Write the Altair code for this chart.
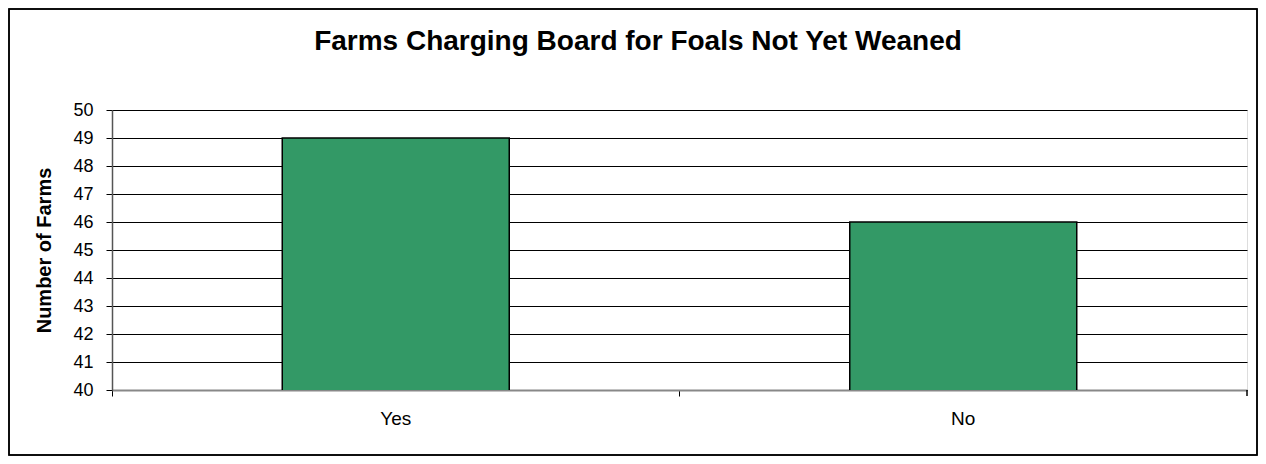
import altair as alt
import pandas as pd

categories = ["Yes", "No"]
farms = [49, 46]
y_ticks = [40, 41, 42, 43, 44, 45, 46, 47, 48, 49, 50]
title_text = ["Farms Charging Board for Foals Not Yet Weaned"]

df = pd.DataFrame({"answer": categories, "farms": farms})
df_title = pd.DataFrame({"t": title_text})

W, H = 1135, 280
PAD_L, PAD_T, PAD_R, PAD_B = 104, 102, 11, 66
FONT = "Liberation Sans"

bars = alt.Chart(df).mark_bar(
    color="#339966", stroke="#000000", strokeWidth=1.5, clip=True
).encode(
    x=alt.X(
        "answer:N",
        sort=categories,
        scale=alt.Scale(paddingInner=0.6, paddingOuter=0.3),
        axis=alt.Axis(
            title=None,
            bandPosition=-0.75,
            labelAngle=0,
            labelFont=FONT,
            labelFontSize=19,
            labelColor="#000000",
            labelPadding=13,
            tickColor="#000000",
            tickSize=6,
            domainColor="#888888",
            domainWidth=2,
            grid=False,
        ),
    ),
    y=alt.Y(
        "farms:Q",
        scale=alt.Scale(domain=[40, 50], nice=False, zero=False),
        axis=alt.Axis(
            title="Number of Farms",
            values=y_ticks,
            format="d",
            titleFont=FONT,
            titleFontSize=20,
            titleFontWeight="bold",
            titleColor="#000000",
            titleAngle=-90,
            titleX=-68,
            titleY=H / 2,
            titleAlign="center",
            titleBaseline="middle",
            labelFont=FONT,
            labelFontSize=18,
            labelColor="#000000",
            labelPadding=13,
            tickColor="#000000",
            tickSize=6,
            domainColor="#555555",
            domainWidth=1.5,
            grid=True,
            gridColor="#000000",
            gridWidth=1,
            gridOpacity=1,
        ),
    ),
)

right_tick = alt.Chart(df).mark_rule(color="#000000", strokeWidth=1).encode(
    x=alt.value(W), y=alt.value(H), y2=alt.value(H + 6)
)

title = alt.Chart(df_title).mark_text(
    font=FONT, fontSize=28, fontWeight="bold", color="#000000",
    align="center", baseline="alphabetic", clip=False
).encode(
    x=alt.value(526), y=alt.value(-60), text="t:N"
)

border = alt.Chart(df).mark_rect(
    fill=None, stroke="#000000", strokeWidth=1.5, clip=False
).encode(
    x=alt.value(-PAD_L + 1),
    x2=alt.value(W + PAD_R - 1),
    y=alt.value(-PAD_T + 1),
    y2=alt.value(H + PAD_B - 1),
)

chart = alt.layer(bars, right_tick, title, border).properties(
    width=W,
    height=H,
    autosize=alt.AutoSizeParams(type="none"),
    padding={"left": PAD_L, "top": PAD_T, "right": PAD_R, "bottom": PAD_B},
).configure_view(
    stroke="#999999", strokeWidth=2
).configure(background="white")

chart.save("out.html", embed_options={"renderer": "svg", "actions": False})
